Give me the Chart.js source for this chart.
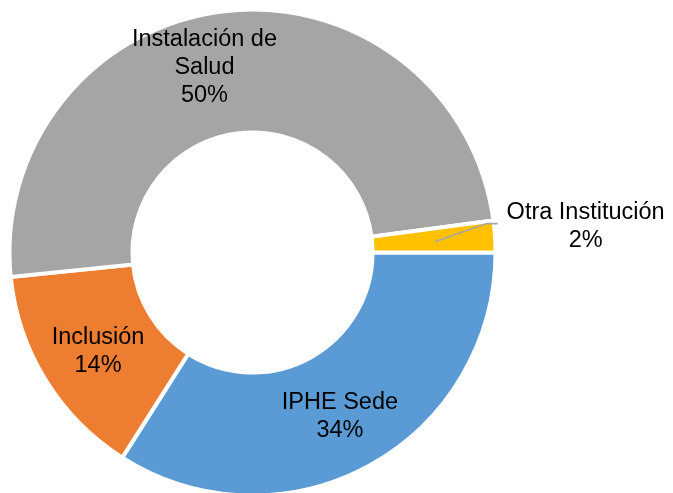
<!DOCTYPE html>
<html lang="es">
<head>
<meta charset="utf-8">
<title>Distribución por institución</title>
<script src="https://cdn.jsdelivr.net/npm/chart.js@4/dist/chart.umd.min.js"></script>
<style>
  html, body { margin: 0; padding: 0; background: #fff; }
  #wrap { width: 673px; height: 493px; position: relative; }
</style>
</head>
<body>
<div id="wrap"><canvas id="grafico" width="673" height="493"></canvas></div>
<script>
/* Datos (porcentaje del total) */
var categorias = ['IPHE Sede', 'Inclusión', 'Instalación de Salud', 'Otra Institución'];
var lineasEtiqueta = [['IPHE Sede'], ['Inclusión'], ['Instalación de', 'Salud'], ['Otra Institución']];
var valores = [34.0, 14.4, 49.5, 2.1];
var colores = ['#5B9BD5', '#ED7D31', '#A5A5A5', '#FFC000'];

var total = valores.reduce(function (a, b) { return a + b; }, 0);

/* Etiquetas de datos al estilo Excel: nombre + porcentaje */
var etiquetasPlugin = {
  id: 'etiquetas',
  afterDatasetsDraw: function (chart, args, opts) {
    var ctx = chart.ctx;
    var meta = chart.getDatasetMeta(0);
    ctx.save();
    ctx.font = opts.font;
    ctx.fillStyle = opts.color;
    ctx.textAlign = 'center';
    ctx.textBaseline = 'middle';

    meta.data.forEach(function (arc, i) {
      var p = arc.getProps(['x', 'y', 'startAngle', 'endAngle', 'innerRadius', 'outerRadius'], true);
      var mid = (p.startAngle + p.endAngle) / 2;
      var r = (p.innerRadius + p.outerRadius) / 2;
      var ax = p.x + Math.cos(mid) * r;
      var ay = p.y + Math.sin(mid) * r;
      var aj = opts.ajustes[i];
      var cx = ax + aj.dx;
      var cy = ay + aj.dy;

      if (aj.guia) {
        ctx.strokeStyle = opts.guiaColor;
        ctx.lineWidth = 1.75;
        ctx.beginPath();
        ctx.moveTo(ax + 2, ay + 1);
        ctx.lineTo(cx + aj.guia[0], cy + aj.guia[1]);
        ctx.lineTo(cx + aj.guia[2], cy + aj.guia[1]);
        ctx.stroke();
      }

      var pct = Math.round(valores[i] / total * 100) + '%';
      var lineas = lineasEtiqueta[i].concat([pct]);
      var y0 = cy - (lineas.length - 1) * opts.lineHeight / 2;
      lineas.forEach(function (t, k) {
        ctx.fillText(t, cx, y0 + k * opts.lineHeight);
      });
    });
    ctx.restore();
  }
};

new Chart(document.getElementById('grafico'), {
  type: 'doughnut',
  data: {
    labels: categorias,
    datasets: [{
      data: valores,
      backgroundColor: colores,
      borderColor: '#ffffff',
      borderWidth: 4,
      borderJoinStyle: 'miter'
    }]
  },
  options: {
    responsive: false,
    animation: false,
    rotation: 90,
    radius: 243,
    cutout: '49.4%',
    layout: { padding: { left: 10, right: 178, top: 12, bottom: 0 } },
    plugins: {
      legend: { display: false },
      tooltip: { enabled: false },
      etiquetas: {
        font: '23.5px "Liberation Sans", Arial, sans-serif',
        color: '#000000',
        lineHeight: 28,
        guiaColor: '#A6A6A6',
        ajustes: [
          { dx: 0, dy: 5 },
          { dx: 0, dy: 4 },
          { dx: -27, dy: -5 },
          { dx: 152, dy: -14, guia: [-99, -3, -88] }
        ]
      }
    }
  },
  plugins: [etiquetasPlugin]
});
</script>
</body>
</html>
